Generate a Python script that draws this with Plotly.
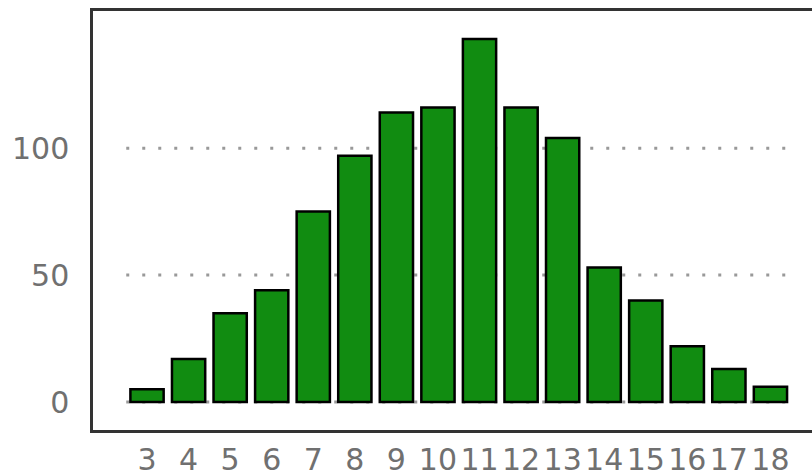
import plotly.graph_objects as go

categories = [3, 4, 5, 6, 7, 8, 9, 10, 11, 12, 13, 14, 15, 16, 17, 18]
counts = [5, 17, 35, 44, 75, 97, 114, 116, 143, 116, 104, 53, 40, 22, 13, 6]
y_ticks = [0, 50, 100]

fig = go.Figure()
fig.add_trace(go.Bar(
    x=categories, y=counts, width=0.8,
    marker=dict(color="#118c11", line=dict(color="#000000", width=2.5)),
))

x0 = min(categories) - 0.5
x1 = max(categories) + 0.5
for t in y_ticks:
    fig.add_shape(type="line", xref="x", yref="y", x0=x0, x1=x1, y0=t, y1=t,
                  line=dict(color="#999999", width=3, dash="3px,13px"), layer="below")

fig.update_layout(
    width=812, height=474,
    margin=dict(l=93, r=0, t=11, b=44),
    paper_bgcolor="white", plot_bgcolor="white",
    showlegend=False,
    xaxis=dict(
        range=[1.70, 19.0], tickmode="array", tickvals=categories,
        ticktext=[str(c) for c in categories], tickangle=0, automargin=False,
        showgrid=False, zeroline=False,
        showline=True, linecolor="#333333", linewidth=2.5, mirror=True,
        ticks="outside", ticklen=1, tickcolor="rgba(0,0,0,0)",
        tickfont=dict(family="DejaVu Sans", size=30, color="#707070"),
    ),
    yaxis=dict(
        range=[-11, 154], tickmode="array", tickvals=y_ticks, automargin=False,
        showgrid=False, zeroline=False,
        showline=True, linecolor="#333333", linewidth=2.5, mirror=False,
        ticks="outside", ticklen=15, tickcolor="rgba(0,0,0,0)",
        tickfont=dict(family="DejaVu Sans", size=30, color="#707070"),
    ),
)

fig.write_html(
    "out.html",
    config={"displayModeBar": False},
    post_script="document.body.style.margin='0';document.body.style.overflow='hidden';",
)
